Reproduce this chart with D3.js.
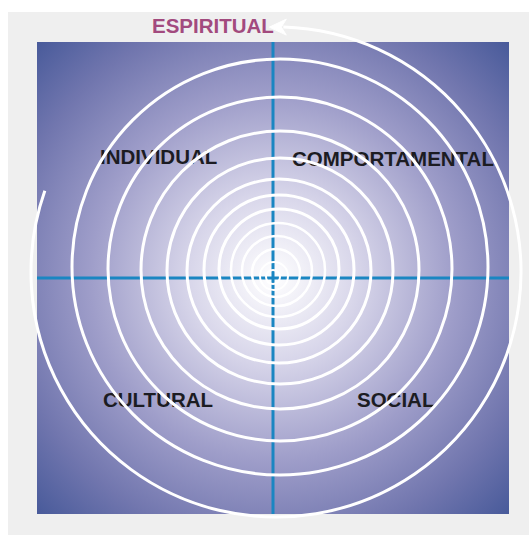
<!DOCTYPE html>
<html>
  <head>
    <script src="https://d3js.org/d3.v7.min.js"></script>
    <style>
      body { margin: 0; background-color: #ffffff; }
      text { font-family: 'Liberation Sans', Arial, sans-serif; font-weight: bold; }
    </style>
  </head>
  <body>
    <svg id="canvas" width="529" height="535"></svg>
  </body>

  <script>
    // rings, from the outside in (radius and centre drift, in chart units)
    const ringR  = [208, 172, 139, 113, 92, 75, 60, 47, 35, 24, 14, 7]
    const ringDx = [7, 7, 7, 7, 6, 6, 6, 5, 4, 3, 1, 0]
    const ringDy = [11, 9, 8, 7, 7, 8, 9, 8, 7, 5, 2, 1]

    // quadrant names
    const quadrants = ['INDIVIDUAL', 'COMPORTAMENTAL', 'CULTURAL', 'SOCIAL']
    const outerLabel = 'ESPIRITUAL'

    // outer spiral arc
    const outerR = 245
    const outerDx = 3
    const outerDy = 6

    const svg = d3.select('#canvas')

    // square plot area
    const box = { left: 37, top: 42, size: 472 }
    const half = box.size / 2
    const x = d3.scaleLinear().domain([-half, half]).range([box.left, box.left + box.size])
    const y = d3.scaleLinear().domain([-half, half]).range([box.top + box.size, box.top])
    const k = box.size / (2 * half)

    // grey card behind everything
    svg.append('rect')
      .attr('x', 8).attr('y', 12)
      .attr('width', 529 - 8).attr('height', 535 - 12)
      .attr('fill', '#efefef')

    const defs = svg.append('defs')
    const grad = defs.append('radialGradient')
      .attr('id', 'bg')
      .attr('gradientUnits', 'userSpaceOnUse')
      .attr('cx', x(0)).attr('cy', y(0))
      .attr('r', half * Math.SQRT2)
    grad.append('stop').attr('offset', 0).attr('stop-color', '#ffffff')
    grad.append('stop').attr('offset', 0.25).attr('stop-color', '#d8d6ea')
    grad.append('stop').attr('offset', 0.55).attr('stop-color', '#9e9dc9')
    grad.append('stop').attr('offset', 0.8).attr('stop-color', '#7176ae')
    grad.append('stop').attr('offset', 1).attr('stop-color', '#485a9a')

    svg.append('rect')
      .attr('x', box.left).attr('y', box.top)
      .attr('width', box.size).attr('height', box.size)
      .attr('fill', 'url(#bg)')

    // axes
    const axisColor = '#1a86c2'
    svg.append('line')
      .attr('x1', x(-half)).attr('x2', x(half))
      .attr('y1', y(0)).attr('y2', y(0))
      .attr('stroke', axisColor).attr('stroke-width', 3)
    svg.append('line')
      .attr('x1', x(0)).attr('x2', x(0))
      .attr('y1', y(-half)).attr('y2', y(half))
      .attr('stroke', axisColor).attr('stroke-width', 3)

    // quadrant labels (under the rings)
    const labelPos = [[100, 164], [292, 166], [103, 407], [357, 407]]
    svg.selectAll('text.quad')
      .data(quadrants)
      .enter()
      .append('text')
        .classed('quad', true)
        .attr('x', (d, i) => labelPos[i][0])
        .attr('y', (d, i) => labelPos[i][1])
        .attr('font-size', 20.5)
        .attr('fill', '#1c1c22')
        .text(d => d)

    // rings
    const rings = ringR.map((r, i) => ({ r: r, dx: ringDx[i], dy: ringDy[i] }))
    svg.selectAll('circle.ring')
      .data(rings)
      .enter()
      .append('circle')
        .classed('ring', true)
        .attr('cx', d => x(d.dx))
        .attr('cy', d => y(d.dy))
        .attr('r', d => d.r * k)
        .attr('fill', 'none')
        .attr('stroke', '#ffffff')
        .attr('stroke-width', d => d.r > 50 ? 3 : (d.r > 20 ? 2.5 : 2))

    // outer arc with arrow at the top
    const ocx = x(outerDx), ocy = y(outerDy)
    const startA = 0.03
    const endA = 5.05
    const arc = d3.arc()
      .innerRadius(outerR * k)
      .outerRadius(outerR * k)
      .startAngle(startA)
      .endAngle(endA)
    svg.append('path')
      .attr('transform', `translate(${ocx}, ${ocy})`)
      .attr('d', arc())
      .attr('fill', 'none')
      .attr('stroke', '#ffffff')
      .attr('stroke-width', 3)

    // arrowhead pointing left along the tangent
    const tipX = ocx + outerR * k * Math.sin(startA) - 14
    const tipY = ocy - outerR * k * Math.cos(startA)
    const arrow = d3.path()
    arrow.moveTo(tipX, tipY)
    arrow.lineTo(tipX + 17, tipY - 8)
    arrow.lineTo(tipX + 12, tipY)
    arrow.lineTo(tipX + 17, tipY + 8)
    arrow.closePath()
    svg.append('path')
      .attr('d', arrow.toString())
      .attr('fill', '#ffffff')
      .attr('stroke', '#ffffff')
      .attr('stroke-width', 1)
      .attr('stroke-linejoin', 'round')

    svg.append('text')
      .attr('x', 152)
      .attr('y', 33)
      .attr('font-size', 20.5)
      .attr('fill', '#a24a7e')
      .text(outerLabel)
  </script>
</html>
